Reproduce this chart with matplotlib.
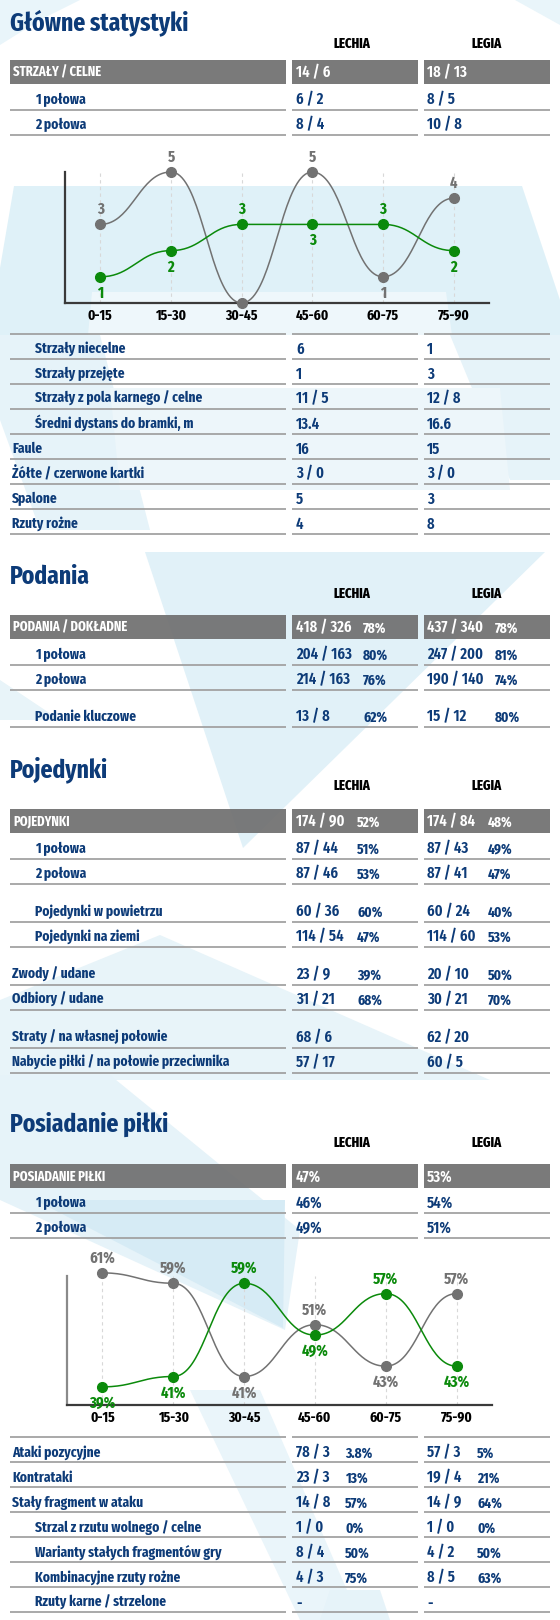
import numpy as np
import matplotlib
matplotlib.use("Agg")
import matplotlib.pyplot as plt
from matplotlib.patches import Polygon, Rectangle

plt.rcParams['font.family'] = ['Fira Sans Extra Condensed', 'DejaVu Sans']
plt.rcParams['font.weight'] = 700

W, H = 560, 1620
NAVY = '#0d3b78'
BAR = '#6f6f6f'
LINE = '#a2a2a2'
GREEN = '#0b8a0b'
GREY = '#727272'

teams = ["LECHIA", "LEGIA"]
periods = ["0-15", "15-30", "30-45", "45-60", "60-75", "75-90"]

# shots per 15 min
shots_lechia = [1, 2, 3, 3, 3, 2]
shots_legia = [3, 5, 0, 5, 1, 4]
# possession per 15 min, %
poss_lechia = [39, 41, 59, 49, 57, 43]
poss_legia = [61, 59, 41, 51, 43, 57]

shots_head = ["STRZAŁY / CELNE", "14 / 6", "18 / 13"]
shots_rows = ["1 połowa", "2 połowa"]
shots_lechia_rows = ["6 / 2", "8 / 4"]
shots_legia_rows = ["8 / 5", "10 / 8"]

misc_rows = ["Strzały niecelne", "Strzały przejęte", "Strzały z pola karnego / celne",
             "Średni dystans do bramki, m", "Faule", "Żółte / czerwone kartki",
             "Spalone", "Rzuty rożne"]
misc_indent = [1, 1, 1, 1, 0, 0, 0, 0]
misc_lechia = ["6", "1", "11 / 5", "13.4", "16", "3 / 0", "5", "4"]
misc_legia = ["1", "3", "12 / 8", "16.6", "15", "3 / 0", "3", "8"]

pass_head = ["PODANIA / DOKŁADNE", "418 / 326", "78%", "437 / 340", "78%"]
pass_rows = ["1 połowa", "2 połowa", "Podanie kluczowe"]
pass_indent = [1, 1, 1]
pass_lechia = ["204 / 163", "214 / 163", "13 / 8"]
pass_lechia_pct = ["80%", "76%", "62%"]
pass_legia = ["247 / 200", "190 / 140", "15 / 12"]
pass_legia_pct = ["81%", "74%", "80%"]

duel_head = ["POJEDYNKI", "174 / 90", "52%", "174 / 84", "48%"]
duel_rows = ["1 połowa", "2 połowa", "Pojedynki w powietrzu", "Pojedynki na ziemi",
             "Zwody / udane", "Odbiory / udane", "Straty / na własnej połowie",
             "Nabycie piłki / na połowie przeciwnika"]
duel_indent = [1, 1, 1, 1, 0, 0, 0, 0]
duel_lechia = ["87 / 44", "87 / 46", "60 / 36", "114 / 54", "23 / 9", "31 / 21", "68 / 6", "57 / 17"]
duel_lechia_pct = ["51%", "53%", "60%", "47%", "39%", "68%", "", ""]
duel_legia = ["87 / 43", "87 / 41", "60 / 24", "114 / 60", "20 / 10", "30 / 21", "62 / 20", "60 / 5"]
duel_legia_pct = ["49%", "47%", "40%", "53%", "50%", "70%", "", ""]

poss_head = ["POSIADANIE PIŁKI", "47%", "53%"]
poss_rows = ["1 połowa", "2 połowa"]
poss_lechia_rows = ["46%", "49%"]
poss_legia_rows = ["54%", "51%"]

att_rows = ["Ataki pozycyjne", "Kontrataki", "Stały fragment w ataku",
            "Strzal z rzutu wolnego / celne", "Warianty stałych fragmentów gry",
            "Kombinacyjne rzuty rożne", "Rzuty karne / strzelone"]
att_indent = [0, 0, 0, 1, 1, 1, 1]
att_lechia = ["78 / 3", "23 / 3", "14 / 8", "1 / 0", "8 / 4", "4 / 3", "-"]
att_lechia_pct = ["3.8%", "13%", "57%", "0%", "50%", "75%", ""]
att_legia = ["57 / 3", "19 / 4", "14 / 9", "1 / 0", "4 / 2", "8 / 5", "-"]
att_legia_pct = ["5%", "21%", "64%", "0%", "50%", "63%", ""]


fig = plt.figure(figsize=(W / 100, H / 100), dpi=100)
fig.patch.set_facecolor('white')
bg = fig.add_axes([0, 0, 1, 1])
bg.set_xlim(0, W)
bg.set_ylim(H, 0)
bg.axis('off')

# decorative background shapes
shapes = [
    ([(0, 0), (80, 0), (40, 20), (0, 45)], '#e9f5fa'),
    ([(515, 0), (560, 0), (560, 25)], '#e9f5fa'),
    ([(14, 186), (522, 186), (560, 300), (560, 335), (0, 335), (0, 268)], '#dff1f8'),
    ([(92, 292), (446, 292), (452, 335), (88, 335)], '#eef7fb'),
    ([(0, 335), (100, 335), (150, 530), (40, 530), (0, 420)], '#e6f3f9'),
    ([(450, 335), (560, 335), (560, 480), (510, 480)], '#e6f3f9'),
    ([(110, 388), (500, 388), (510, 490), (120, 490)], '#edf6fa'),
    ([(145, 552), (545, 552), (243, 848)], '#e1f1f8'),
    ([(0, 680), (60, 720), (0, 720)], '#e8f4f9'),
    ([(0, 1000), (160, 935), (490, 1080), (0, 1080)], '#e8f4f9'),
    ([(0, 1075), (110, 1075), (300, 1230), (285, 1330), (0, 1200)], '#e6f3f9'),
    ([(35, 1200), (285, 1200), (283, 1328)], '#d6ebf5'),
    ([(190, 1390), (260, 1390), (360, 1620), (300, 1620)], '#eaf5fa'),
    ([(330, 1590), (380, 1590), (390, 1620), (320, 1620)], '#e6f3f9'),
]
for pts, col in shapes:
    bg.add_patch(Polygon(pts, closed=True, facecolor=col, edgecolor='none', zorder=0))

COLS = [(10, 286), (292, 418), (424, 550)]
VAL_X = [296, 427]
HEAD_X = [352, 487]
LAB = 10.5
HEAD = 9.8
VAL = 11.5
PCT = 10.5


def put(x, y, s, size, color, ha='left', weight=700):
    # y is the visual centre of the cap height, in pixels
    base = y + 0.345 * size / 0.72
    bg.text(x, base, s, fontsize=size, color=color, ha=ha, va='baseline',
            fontweight=weight, zorder=5)


def underline(y):
    for x0, x1 in COLS:
        bg.plot([x0, x1], [y, y], color=LINE, lw=1.3, solid_capstyle='butt', zorder=3)


def title(y, s, hy):
    put(10, y, s, 18.5, NAVY, weight=700)
    for x, t in zip(HEAD_X, teams):
        put(x, hy, t, 10, 'black', ha='center', weight=800)


def bar(y, head, pct_x=None):
    for x0, x1 in COLS:
        bg.add_patch(Rectangle((x0, y - 12), x1 - x0, 24, facecolor=BAR,
                               edgecolor='none', alpha=0.92, zorder=2))
    put(13, y, head[0], HEAD, 'white')
    put(VAL_X[0], y, head[1], VAL, 'white', weight=600)
    if pct_x is None:
        put(VAL_X[1], y, head[2], VAL, 'white', weight=600)
    else:
        put(pct_x[0], y + 1, head[2], PCT, 'white')
        put(VAL_X[1], y, head[3], VAL, 'white', weight=600)
        put(pct_x[1], y + 1, head[4], PCT, 'white')


def rows(ys, labels, indent, lech, leg, lech_pct=None, leg_pct=None, pct_x=None, dl=11):
    for i, y in enumerate(ys):
        put(35 if indent[i] else 12, y, labels[i], LAB, NAVY)
        put(VAL_X[0], y, lech[i], VAL, NAVY, weight=600)
        put(VAL_X[1], y, leg[i], VAL, NAVY, weight=600)
        if lech_pct is not None:
            put(pct_x[0], y + 1, lech_pct[i], PCT, NAVY)
            put(pct_x[1], y + 1, leg_pct[i], PCT, NAVY)
        underline(y + dl)


def row_y(start, n, gaps=(), gap=13, pitch=25):
    out, y = [], start
    for i in range(n):
        if i in gaps:
            y += gap
        out.append(y)
        y += pitch
    return out


def smooth(xs, ys, k=0.45, n=40):
    px, py = [], []
    t = np.linspace(0, 1, n)
    for i in range(len(xs) - 1):
        x0, x1, y0, y1 = xs[i], xs[i + 1], ys[i], ys[i + 1]
        d = (x1 - x0) * k
        bx = (1 - t) ** 3 * x0 + 3 * (1 - t) ** 2 * t * (x0 + d) + 3 * (1 - t) * t ** 2 * (x1 - d) + t ** 3 * x1
        by = (1 - t) ** 3 * y0 + 3 * (1 - t) ** 2 * t * y0 + 3 * (1 - t) * t ** 2 * y1 + t ** 3 * y1
        px.extend(bx)
        py.extend(by)
    return px, py


def line_chart(rect, lech, leg, ylim, fmt, vcol):
    l, top, r, bot = rect
    ax = fig.add_axes([l / W, 1 - bot / H, (r - l) / W, (bot - top) / H])
    ax.patch.set_alpha(0)
    x = np.arange(len(periods))
    ax.set_xlim(-0.5, len(periods) - 0.5)
    ax.set_ylim(*ylim)
    for s in ['top', 'right']:
        ax.spines[s].set_visible(False)
    ax.spines['left'].set_color(vcol)
    ax.spines['left'].set_linewidth(1.6)
    ax.spines['bottom'].set_color('#3a3a3a')
    ax.spines['bottom'].set_linewidth(1.6)
    ax.set_yticks([])
    ax.set_xticks(x)
    ax.set_xticklabels(periods, fontsize=10.5, color='black', fontweight=700)
    ax.tick_params(axis='x', length=0, pad=4)
    for xi in x:
        ax.axvline(xi, color='#d8d8d8', lw=0.8, ls=(0, (3, 3)), zorder=1)
    for vals, other, col in [(leg, lech, GREY), (lech, leg, GREEN)]:
        sx, sy = smooth(x, vals)
        ax.plot(sx, sy, color=col, lw=1.1, zorder=3, clip_on=False)
        ax.plot(x, vals, 'o', ms=7, color=col, zorder=4, clip_on=False)
        for xi, v, o in zip(x, vals, other):
            if v == 0:
                continue
            up = v >= o
            ax.annotate(fmt.format(v), (xi, v), xytext=(0, 5 if up else -6),
                        textcoords='offset points', ha='center',
                        va='bottom' if up else 'top', fontsize=11.5, color=col,
                        fontweight=700, annotation_clip=False, zorder=5)
    return ax


# Główne statystyki
title(21, "Główne statystyki", 43)
bar(71.5, shots_head)
rows(row_y(99, 2), shots_rows, [1, 1], shots_lechia_rows, shots_legia_rows)

line_chart((65, 172, 489, 303), shots_lechia, shots_legia, (0, 5), "{}", '#3a3a3a')

underline(334)
rows(row_y(348, len(misc_rows)), misc_rows, misc_indent, misc_lechia, misc_legia)

# Podania
title(575, "Podania", 593)
bar(627, pass_head, (363, 495))
rows(row_y(654, 3, gaps=(2,), gap=12), pass_rows, pass_indent, pass_lechia, pass_legia,
     pass_lechia_pct, pass_legia_pct, (363, 495))

# Pojedynki
title(768, "Pojedynki", 785)
bar(821, duel_head, (357, 488))
rows(row_y(848, len(duel_rows), gaps=(2, 4, 6)), duel_rows, duel_indent, duel_lechia,
     duel_legia, duel_lechia_pct, duel_legia_pct, (357, 488))

# Posiadanie piłki
title(1123, "Posiadanie piłki", 1142)
bar(1176, poss_head)
rows(row_y(1202, 2), poss_rows, [1, 1], poss_lechia_rows, poss_legia_rows)

line_chart((67, 1276, 492, 1405), poss_lechia, poss_legia, (35.5, 60.4), "{}%", '#8a8a8a')

underline(1437)
rows(row_y(1452, len(att_rows)), att_rows, att_indent, att_lechia, att_legia,
     att_lechia_pct, att_legia_pct, (345, 477), dl=10)

fig.savefig("out.png", dpi=100)
